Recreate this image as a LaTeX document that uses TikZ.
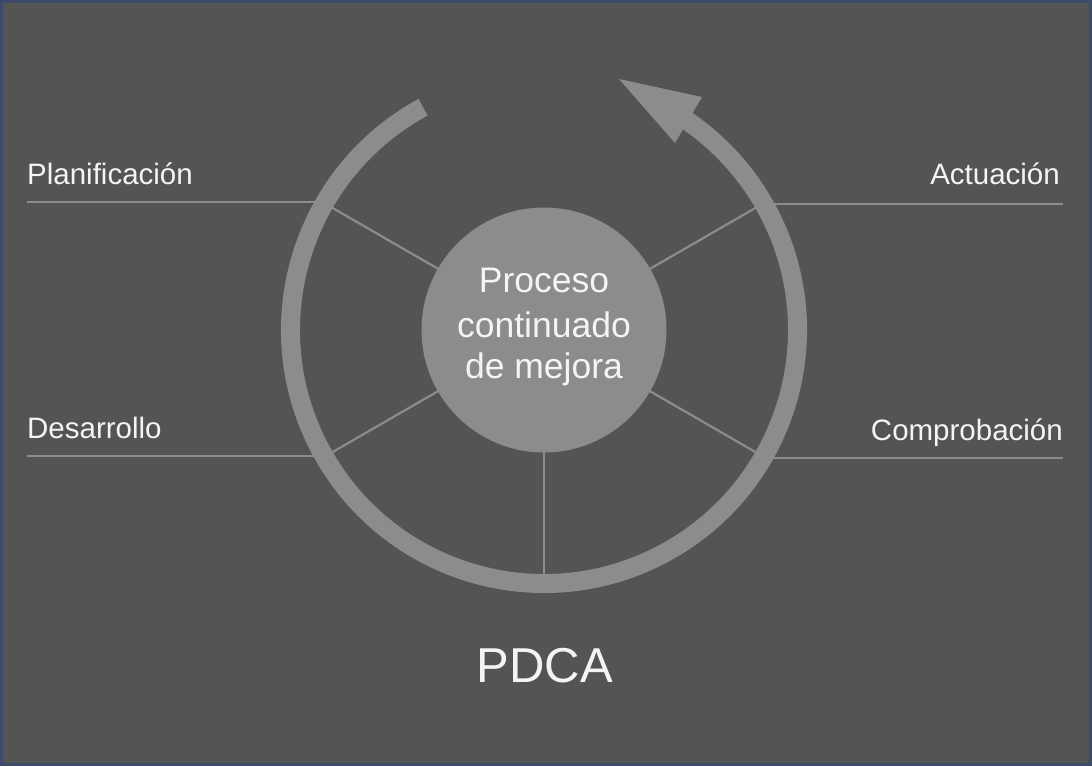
\documentclass[tikz,border=0pt]{standalone}
\usepackage{fontspec}
\setmainfont{Liberation Sans}
\definecolor{bg}{HTML}{545454}
\definecolor{ringgray}{HTML}{8C8C8C}
\definecolor{framecol}{HTML}{3D4A6C}
\definecolor{txt}{HTML}{F4F4F4}
\begin{document}
\begin{tikzpicture}[x=1pt,y=1pt,
  thinline/.style={draw=ringgray,line width=2.2pt},
  label/.style={text=txt,inner sep=0pt,font=\fontsize{29.5}{34}\selectfont},
  centertext/.style={text=txt,inner sep=0pt,anchor=base,font=\fontsize{35.5}{43}\selectfont},
  ringstyle/.style={draw=ringgray,line width=19pt}]
% background and frame
\fill[bg] (0,0) rectangle (1092,-766);
\draw[framecol,line width=3pt] (1.5,-1.5) rectangle (1090.5,-764.5);
\useasboundingbox (0,0) rectangle (1092,-766);
\coordinate (c) at (544,-330);
% spokes
\foreach \a in {30,150,210,270,330}
  \draw[thinline] (c) ++(\a:120) -- ++(\a:135);
% horizontal guide lines
\coordinate (pl1) at (27,-202);  \coordinate (pl2) at (325,-202);
\coordinate (de1) at (27,-456);  \coordinate (de2) at (325,-456);
\coordinate (ac1) at (765,-204); \coordinate (ac2) at (1063,-204);
\coordinate (co1) at (765,-458); \coordinate (co2) at (1063,-458);
\draw[thinline] (pl1) -- (pl2);
\draw[thinline] (de1) -- (de2);
\draw[thinline] (ac1) -- (ac2);
\draw[thinline] (co1) -- (co2);
% ring with arrow
\draw[ringstyle] (c) ++(118.5:253.5) arc[start angle=118.5, end angle=416, radius=253.5];
\coordinate (tip) at (619,-79);
\coordinate (bA) at (702,-97);
\coordinate (bB) at (675,-143);
\fill[ringgray] (tip) -- (bA) -- (bB) -- cycle;
% inner circle
\fill[ringgray] (c) circle[radius=122.5];
\node[centertext] (t1) at (544,-292) {Proceso};
\node[centertext] (t2) at (544,-337) {continuado};
\node[centertext] (t3) at (544,-378) {de mejora};
% labels
\node[label,anchor=base west] (plan) at (27,-184) {Planificación};
\node[label,anchor=base west] (des) at (27,-438) {Desarrollo};
\node[label,anchor=base east] (act) at (1060,-184) {Actuación};
\node[label,anchor=base east] (comp) at (1063,-440) {Comprobación};
\node[text=txt,inner sep=0pt,anchor=base,font=\fontsize{49}{56}\selectfont] (pdca) at (545,-682) {PDCA};
\end{tikzpicture}
\end{document}
